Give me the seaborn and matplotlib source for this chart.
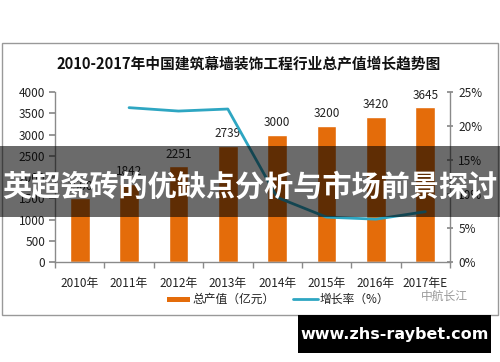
import matplotlib
matplotlib.use("Agg")
import matplotlib.pyplot as plt
from matplotlib.patches import Rectangle
from matplotlib.lines import Line2D
import seaborn as sns
import pandas as pd
import numpy as np

years = ["2010年", "2011年", "2012年", "2013年", "2014年", "2015年", "2016年", "2017年E"]
output_value = [1500, 1842, 2251, 2739, 3000, 3200, 3420, 3645]
growth_years = ["2011年", "2012年", "2013年", "2014年", "2015年", "2016年", "2017年E"]
growth_rate = [22.7, 22.2, 22.5, 9.5, 6.6, 6.3, 7.4]
left_ticks = [0, 500, 1000, 1500, 2000, 2500, 3000, 3500, 4000]
right_ticks = [0, 5, 10, 15, 20, 25]

title = "2010-2017年中国建筑幕墙装饰工程行业总产值增长趋势图"
banner = "英超瓷砖的优缺点分析与市场前景探讨"
site = "www.zhs-raybet.com"

sns.set_theme(style="white")
plt.rcParams['font.family'] = ['Noto Sans CJK SC', 'DejaVu Sans']

ORANGE = "#E46C0A"
TEAL = "#2EA6C2"
TXT = "#222222"
GRAY = "#8a8a8a"

fig = plt.figure(figsize=(5, 3.62), dpi=100)
ax = fig.add_axes([0.11, 0.2762, 0.79, 0.4696])

df = pd.DataFrame({"year": years, "value": output_value})
sns.barplot(data=df, x="year", y="value", color=ORANGE, width=0.4,
            saturation=1, ax=ax, order=years)
ax.set_ylim(0, 4000)
ax.set_xlim(-0.5, len(years) - 0.5)
ax.set_yticks(left_ticks)
ax.set_xlabel("")
ax.set_ylabel("")
for c in ax.containers:
    ax.bar_label(c, labels=[str(v) for v in output_value], padding=4,
                 fontsize=8.5, color=TXT)

ax2 = ax.twinx()
gdf = pd.DataFrame({"x": [years.index(y) for y in growth_years], "g": growth_rate})
sns.lineplot(data=gdf, x="x", y="g", color=TEAL, linewidth=2, ax=ax2)
ax2.set_ylim(0, 25)
ax2.set_yticks(right_ticks)
ax2.set_yticklabels([f"{t}%" for t in right_ticks])
ax2.set_xlim(-0.5, len(years) - 0.5)
ax2.set_ylabel("")
ax2.set_xlabel("")

for a in (ax, ax2):
    for s in a.spines.values():
        s.set_color(GRAY)
        s.set_linewidth(1)
    a.spines["top"].set_visible(False)
ax.spines["right"].set_visible(False)
ax2.spines["left"].set_visible(False)
ax2.spines["bottom"].set_visible(False)

ax.tick_params(axis="y", which="both", left=True, length=4, color=GRAY,
               labelsize=8.5, labelcolor=TXT, pad=3)
ax.tick_params(axis="x", which="major", bottom=False, labelsize=8.5,
               labelcolor=TXT, pad=5)
ax.set_xticks(np.arange(-0.5, len(years), 1.0), minor=True)
ax.tick_params(axis="x", which="minor", bottom=True, length=4, color=GRAY)
ax2.tick_params(axis="y", right=True, length=4, color=GRAY, direction="inout",
                labelsize=8.5, labelcolor=TXT, pad=4)

# outer frame
fig.patches.append(Rectangle((0.004, 0.1298), 0.992, 0.7514, transform=fig.transFigure,
                             fill=False, edgecolor="#999999", linewidth=1, zorder=0))
fig.text(0.498, 0.826, title, ha="center", va="center", fontsize=10.6,
         fontweight="bold", color="#111111")

# legend
fig.patches.append(Rectangle((167/500, 1-302/362), 23/500, 5/362, transform=fig.transFigure,
                             facecolor=ORANGE, edgecolor="none"))
fig.text(192/500, 1-299/362, "总产值（亿元）", ha="left", va="center", fontsize=8.5, color=TXT)
fig.lines.append(Line2D([293/500, 318/500], [1-299/362, 1-299/362], transform=fig.transFigure,
                        color=TEAL, linewidth=2))
fig.text(320/500, 1-299/362, "增长率（%）", ha="left", va="center", fontsize=8.5, color=TXT)
fig.text(421/500, 1-296/362, "中航长江", ha="left", va="center", fontsize=8.5, color="#9a9a9a")

# banner overlay
fig.patches.append(Rectangle((0, 1-217/362), 1, 71/362, transform=fig.transFigure,
                             facecolor="black", alpha=0.58, edgecolor="none", zorder=10))
fig.text(0.5, 1-187/362, banner, ha="center", va="center", fontsize=21,
         fontweight="bold", color="white", zorder=11)

# site watermark
fig.patches.append(Rectangle((298/500, 1-353/362), 193/500, 38/362, transform=fig.transFigure,
                             facecolor="black", edgecolor="none", zorder=10))
fig.text(394.5/500, 1-335/362, site, ha="center", va="center", fontsize=11.5,
         fontweight="bold", color="white", zorder=11, family=["DejaVu Sans"])

fig.savefig("out.png", dpi=100)
